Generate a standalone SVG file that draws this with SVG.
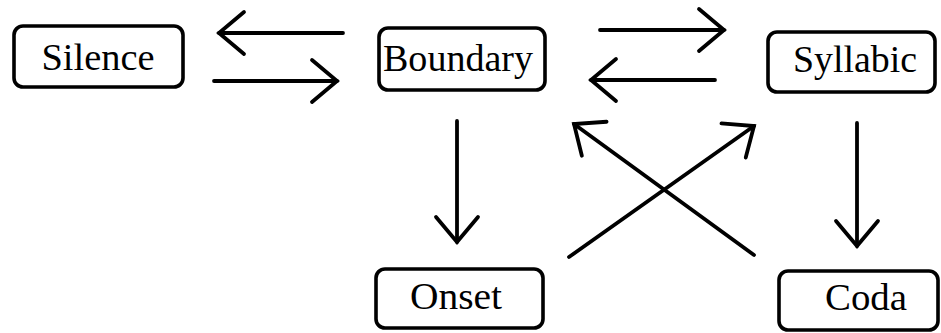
<svg xmlns="http://www.w3.org/2000/svg" width="941" height="333" viewBox="0 0 941 333">
<defs>
<style>
.box{fill:#fff;stroke:#000;stroke-width:3.6}
.lbl{font-family:"Liberation Serif","Times New Roman",serif;font-size:38px;fill:#000;text-anchor:middle}
.edge{stroke:#000;stroke-width:3.8;fill:none;stroke-linecap:round;marker-end:url(#ah)}
</style>
<marker id="ah" markerUnits="userSpaceOnUse" viewBox="-30 -26 34 52" refX="0" refY="0" markerWidth="34" markerHeight="52" orient="auto" overflow="visible">
<path d="M-25,-21 L0,0 L-25,21" fill="none" stroke="#000" stroke-width="3.8" stroke-linecap="round" stroke-linejoin="miter"/>
</marker>
</defs>
<rect width="941" height="333" fill="#fff"/>
<g id="connectors">
<line class="edge" x1="343" y1="33" x2="219" y2="33"/>
<line class="edge" x1="214" y1="81" x2="337" y2="81"/>
<line class="edge" x1="600" y1="30" x2="724" y2="30"/>
<line class="edge" x1="715" y1="80" x2="591" y2="80"/>
<line class="edge" x1="457" y1="121" x2="457" y2="242"/>
<line class="edge" x1="857" y1="123" x2="857" y2="246"/>
<line class="edge" x1="569" y1="257" x2="754" y2="126"/>
<line class="edge" x1="754" y1="255" x2="574" y2="124"/>
</g>
<g id="silence">
<rect class="box" x="14" y="26" width="169" height="61" rx="9"/>
<text class="lbl" x="98" y="70" textLength="113" lengthAdjust="spacingAndGlyphs">Silence</text>
</g>
<g id="boundary">
<rect class="box" x="379" y="28" width="166" height="62" rx="9"/>
<text class="lbl" x="458" y="71" textLength="150" lengthAdjust="spacingAndGlyphs">Boundary</text>
</g>
<g id="syllabic">
<rect class="box" x="768" y="32" width="167" height="60" rx="9"/>
<text class="lbl" x="855" y="72" textLength="124" lengthAdjust="spacingAndGlyphs">Syllabic</text>
</g>
<g id="onset">
<rect class="box" x="376" y="269" width="167" height="59" rx="9"/>
<text class="lbl" x="456" y="309" textLength="92" lengthAdjust="spacingAndGlyphs">Onset</text>
</g>
<g id="coda">
<rect class="box" x="779" y="271" width="159" height="59" rx="9"/>
<text class="lbl" x="866" y="310" textLength="82" lengthAdjust="spacingAndGlyphs">Coda</text>
</g>
</svg>
